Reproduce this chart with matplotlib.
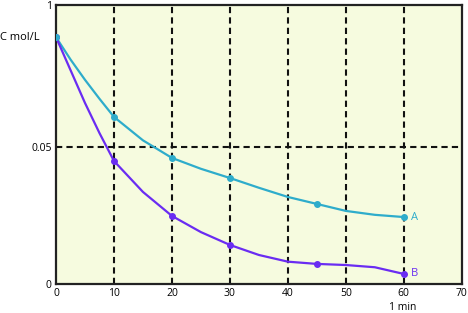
import numpy as np
import matplotlib
matplotlib.use("Agg")
import matplotlib.pyplot as plt

# ==== DATA (y in axis units 0..1) ====
X_A = [0, 2.5, 5, 7.5, 10, 15, 20, 25, 30, 35, 40, 45, 50, 55, 60]
Y_A = [0.885, 0.805, 0.732, 0.664, 0.599, 0.515, 0.452, 0.413, 0.380, 0.345, 0.312, 0.287, 0.262, 0.248, 0.240]
X_B = [0, 2.5, 5, 7.5, 10, 15, 20, 25, 30, 35, 40, 45, 50, 55, 60]
Y_B = [0.885, 0.767, 0.649, 0.541, 0.441, 0.330, 0.244, 0.186, 0.140, 0.104, 0.080, 0.072, 0.068, 0.060, 0.036]
MARK_X = [0, 10, 20, 30, 45, 60]

X_TICKS = [0, 10, 20, 30, 40, 50, 60, 70]
Y_TICKS = [0, 0.49, 1]
Y_TICKLABELS = ["0", "0.05", "1"]
VLINES = [10, 20, 30, 40, 50, 60]
HLINE = 0.49

COL_A = "#2eaccb"
COL_B = "#6a2cf2"
BG = "#f6fbdf"

plt.rcParams["font.family"] = "Open Sans"

fig = plt.figure(figsize=(4.68, 3.13), dpi=100)
ax = fig.add_axes([0.1197, 0.0927, 0.867, 0.891])
ax.set_facecolor(BG)

# Dashed grid lines
for xv in VLINES:
    ax.axvline(xv, color="#111111", linestyle=(0, (3, 2)), linewidth=1.5, zorder=1)
ax.axhline(HLINE, color="#111111", linestyle=(0, (3, 2)), linewidth=1.5, zorder=1)

# Curves
ax.plot(X_A, Y_A, color=COL_A, linewidth=1.6, zorder=3)
ax.plot(X_B, Y_B, color=COL_B, linewidth=1.6, zorder=3)
ma = [Y_A[X_A.index(x)] for x in MARK_X]
mb = [Y_B[X_B.index(x)] for x in MARK_X]
ax.plot(MARK_X, mb, "o", color=COL_B, markersize=4, zorder=4)
ax.plot(MARK_X, ma, "o", color=COL_A, markersize=4, zorder=4)

ax.text(61.2, Y_A[-1], "A", color=COL_A, fontsize=8, va="center", ha="left")
ax.text(61.2, Y_B[-1], "B", color=COL_B, fontsize=8, va="center", ha="left")

ax.set_xlim(0, 70)
ax.set_ylim(0, 1)
ax.set_xticks(X_TICKS)
ax.set_yticks(Y_TICKS)
ax.set_yticklabels(Y_TICKLABELS)
ax.tick_params(axis="both", length=0, labelsize=7.5, pad=3)

for sp in ax.spines.values():
    sp.set_linewidth(1.6)
    sp.set_color("#222222")

fig.text(0.0, 1 - 37 / 313, "C mol/L", fontsize=8, va="center", ha="left")
fig.text(403 / 468, 1 - 307 / 313, "1 min", fontsize=7.5, va="center", ha="center")

fig.savefig("out.png", dpi=100)
